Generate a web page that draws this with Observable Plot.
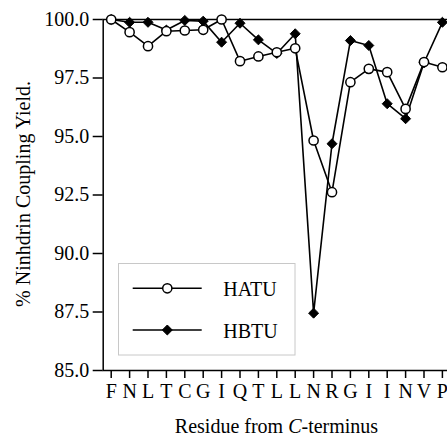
<!DOCTYPE html>
<html><head><meta charset="utf-8">
<script src="https://cdn.jsdelivr.net/npm/d3@7"></script>
<script src="https://cdn.jsdelivr.net/npm/@observablehq/plot@0.6"></script>
<style>
html,body{margin:0;padding:0;background:#fff;overflow:hidden;}
#chart{width:447px;height:446px;overflow:hidden;position:relative;}
#chart svg{max-width:none !important;height:446px !important;width:480px !important;font-family:'Liberation Serif',serif !important;}
</style></head><body><div id="chart"></div>
<script>
const residues = ["F","N","L","T","C","G","I","Q","T","L","L","N","R","G","I","I","N","V","P"];
const hatu = [100.0, 99.46, 98.86, 99.5, 99.53, 99.56, 100.0, 98.22, 98.42, 98.6, 98.77, 94.83, 92.62, 97.32, 97.89, 97.75, 96.18, 98.18, 97.96];
const hbtu = [100.0, 99.88, 99.88, 99.55, 99.96, 99.93, 99.03, 99.84, 99.13, 98.55, 99.39, 87.45, 94.69, 99.1, 98.89, 96.4, 95.76, 98.15, 99.88];
const yTicks = [85, 87.5, 90, 92.5, 95, 97.5, 100];
const seriesNames = ["HATU", "HBTU"];

const data = residues.map((r, i) => ({i, r, hatu: hatu[i], hbtu: hbtu[i]}));
const font = "Liberation Serif";

const chart = Plot.plot({
  width: 480, height: 446,
  marginLeft: 102.7, marginRight: 19.7, marginTop: 19, marginBottom: 76,
  style: {fontFamily: font, fontSize: "20px", background: "#fff", color: "#000", maxWidth: "none"},
  x: {type: "linear", domain: [-0.435, 19]},
  y: {domain: [85, 100]},
  marks: [
    Plot.axisX({ticks: d3.range(residues.length), tickFormat: i => residues[i], tickSize: 8, tickPadding: 5, strokeWidth: 1.5, label: null, fontSize: 20, fontFamily: font}),
    Plot.axisY({ticks: yTicks, tickFormat: d3.format(".1f"), tickSize: 10, tickPadding: 4, strokeWidth: 1.5, label: null, fontSize: 20, fontFamily: font}),
    Plot.frame({stroke: "#000", strokeWidth: 1.5}),
    Plot.lineY(data, {x: "i", y: "hbtu", stroke: "#000", strokeWidth: 1.6}),
    Plot.lineY(data, {x: "i", y: "hatu", stroke: "#000", strokeWidth: 1.6}),
    Plot.dot(data, {x: "i", y: "hbtu", symbol: "diamond2", r: 4.5, fill: "#000", stroke: "#000", strokeWidth: 1}),
    Plot.dot(data, {x: "i", y: "hatu", symbol: "circle", r: 4.6, fill: "#fff", stroke: "#000", strokeWidth: 1.5})
  ]
});

const svg = d3.select(chart);
svg.style("max-width", "none").style("width", "480px").style("height", "446px");
// y label
svg.append("text")
  .attr("transform", "translate(30,194) rotate(-90)")
  .attr("text-anchor", "middle")
  .attr("font-family", font).attr("font-size", 20).attr("fill", "#000")
  .text("% Ninhdrin Coupling Yield.");
// x label
const xl = svg.append("text")
  .attr("x", 276.5).attr("y", 433)
  .attr("text-anchor", "middle")
  .attr("font-family", font).attr("font-size", 20).attr("fill", "#000");
xl.append("tspan").text("Residue from ");
xl.append("tspan").attr("font-style", "italic").text("C");
xl.append("tspan").text("-terminus");

// legend
const lg = svg.append("g").attr("font-family", font).attr("font-size", 20).attr("text-anchor", "start");
lg.append("rect").attr("x", 118.5).attr("y", 263.5).attr("width", 176.5).attr("height", 91.5)
  .attr("fill", "#fff").attr("stroke", "#c8c8c8").attr("stroke-width", 1);
const rowsY = [288.3, 330];
seriesNames.forEach((name, j) => {
  const y = rowsY[j];
  lg.append("line").attr("x1", 132.7).attr("x2", 201.7).attr("y1", y).attr("y2", y)
    .attr("stroke", "#000").attr("stroke-width", 1.6);
  if (j === 0) {
    lg.append("circle").attr("cx", 167.3).attr("cy", y).attr("r", 4.6)
      .attr("fill", "#fff").attr("stroke", "#000").attr("stroke-width", 1.5);
  } else {
    lg.append("path").attr("d", d3.symbol(d3.symbolDiamond2, Math.PI * 4.5 * 4.5)())
      .attr("transform", `translate(167.3,${y})`).attr("fill", "#000").attr("stroke", "#000");
  }
  lg.append("text").attr("x", 223.3).attr("y", y + 7.5).attr("text-anchor", "start").attr("fill", "#000").text(name);
});

document.getElementById("chart").appendChild(chart);
</script>
</body></html>
